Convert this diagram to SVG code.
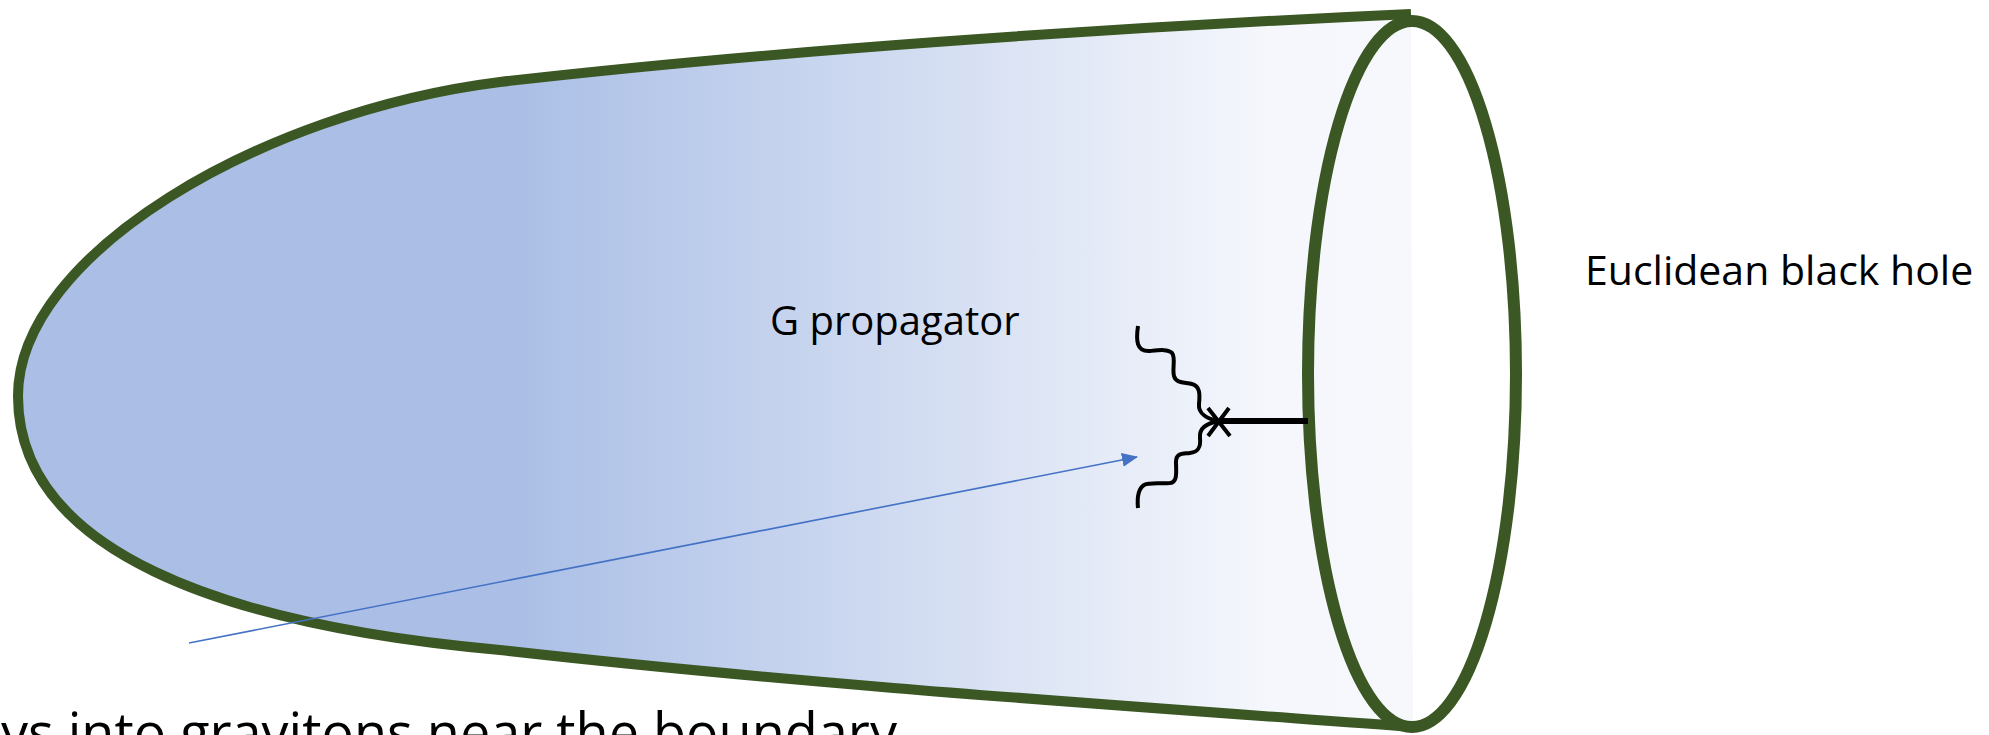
<svg xmlns="http://www.w3.org/2000/svg" width="1989" height="735" viewBox="0 0 1989 735">
  <defs>
    <linearGradient id="bulkFill" gradientUnits="userSpaceOnUse" x1="18" y1="0" x2="1411" y2="0">
      <stop offset="0" stop-color="#ABBFE6"/>
      <stop offset="0.36" stop-color="#ABBFE6"/>
      <stop offset="0.9" stop-color="#F5F7FC"/>
      <stop offset="1" stop-color="#F6F8FC"/>
    </linearGradient>
    <marker id="blueHead" markerUnits="userSpaceOnUse" markerWidth="16" markerHeight="14" refX="15" refY="7" orient="auto">
      <path d="M0,0 L16,7 L0,14 Z" fill="#4472C4"/>
    </marker>
  </defs>
  <style>
    .outline { fill: none; stroke: #3A5724; stroke-width: 10; stroke-linejoin: round; }
    .rim { fill: none; stroke: #3A5724; stroke-width: 12; }
    .ink { fill: none; stroke: #000; stroke-linecap: butt; stroke-linejoin: round; }
    .label { font-family: "Open Sans", "Noto Sans", "Liberation Sans", sans-serif; fill: #000; }
  </style>

  <rect width="1989" height="735" fill="#FFFFFF"/>

  <!-- Euclidean geometry: cigar-shaped bulk closed off by the boundary circle -->
  <g id="bulk">
    <path d="M1411,14 C1100,28 760,52 500,82 C260,112 18,255 18,396 C18,550 220,625 500,650 C800,684 1100,704 1413,727 Z" fill="url(#bulkFill)"/>
    <path class="outline" d="M1411,14 C1100,28 760,52 500,82 C260,112 18,255 18,396 C18,550 220,625 500,650 C800,684 1100,704 1413,727"/>
  </g>

  <g id="boundary">
    <ellipse class="rim" cx="1412" cy="374" rx="104" ry="353"/>
  </g>

  <!-- graviton lines meeting at the insertion point -->
  <g id="vertex">
    <path class="ink" stroke-width="4" d="M1138,326 C1136,340 1136,352 1150,351 C1160,350 1168,349 1172,353 C1176,358 1172,368 1174,376 C1176,384 1186,382 1192,384 C1200,386 1200,394 1199,404 C1198,414 1208,419 1218,421"/>
    <path class="ink" stroke-width="4" d="M1218,421 C1206,424 1199,428 1200,438 C1201,448 1198,452 1190,453 C1182,454 1176,453 1176,462 C1176,471 1178,482 1170,483 C1160,484 1150,482 1144,485 C1138,489 1137,498 1138,508"/>
    <path class="ink" stroke-width="4" d="M1208,408 L1230,436 M1229,408 L1208,436"/>
    <line class="ink" stroke-width="6" x1="1219" y1="421" x2="1308" y2="421"/>
  </g>

  <g id="connectors">
    <line x1="189" y1="643" x2="1137" y2="457" stroke="#4472C4" stroke-width="1.6" marker-end="url(#blueHead)"/>
  </g>

  <g id="labels">
    <text class="label" x="770" y="335" font-size="40">G propagator</text>
    <text class="label" x="1585" y="285" font-size="41">Euclidean black hole</text>
    <text class="label" x="897" y="752" font-size="54" text-anchor="end">ys into gravitons near the boundary</text>
  </g>
</svg>
